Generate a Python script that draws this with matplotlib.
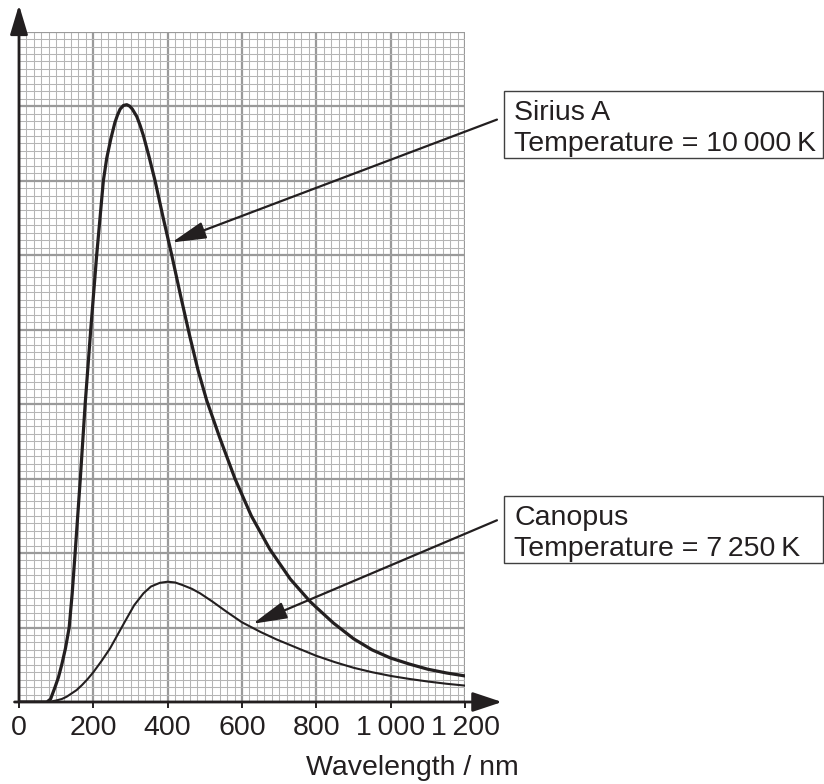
import numpy as np
import matplotlib.pyplot as plt
from matplotlib.patches import Rectangle

plt.rcParams['font.family'] = ['Liberation Sans', 'DejaVu Sans']

# Curva de Sirius A (unidades arbitrarias)
sirius_lambda = [0, 60, 75, 85, 97, 106, 115, 125, 135, 143, 151, 158, 165, 171.5, 178, 185.5,
                 193, 201, 209, 218, 227, 236, 247, 258, 265, 272, 281, 290, 298, 305, 317,
                 326, 335, 350, 366, 388, 411, 435, 460, 482, 505, 540, 581, 625, 675, 730,
                 783, 800, 846, 900, 950, 1000, 1050, 1100, 1150, 1200]
sirius_valor = [0, 0, 0, 0.04, 0.2, 0.33, 0.5, 0.72, 1.0, 1.45, 2.0, 2.5, 3.0, 3.5, 4.0, 4.5,
                5.0, 5.5, 6.0, 6.5, 7.0, 7.3, 7.56, 7.78, 7.88, 7.96, 8.01, 8.02, 8.0, 7.96,
                7.86, 7.74, 7.6, 7.32, 7.0, 6.5, 6.0, 5.45, 4.9, 4.45, 4.05, 3.55, 3.0, 2.5, 2.05,
                1.65, 1.35, 1.27, 1.06, 0.85, 0.70, 0.59, 0.51, 0.44, 0.39, 0.35]

# Curva de Canopus
canopus_lambda = [0, 60, 75, 90, 100, 115, 128, 140, 155, 170, 185, 200, 222, 245, 265, 285,
                  310, 335, 355, 379, 400, 420, 440, 465, 487, 520, 559, 600, 650, 693, 756,
                  800, 850, 900, 950, 1000, 1050, 1100, 1150, 1200]
canopus_valor = [0, 0, 0, 0.01, 0.02, 0.04, 0.07, 0.11, 0.16, 0.23, 0.31, 0.40, 0.55, 0.72,
                 0.9, 1.08, 1.3, 1.46, 1.55, 1.6, 1.615, 1.605, 1.57, 1.52, 1.46, 1.35, 1.21,
                 1.07, 0.94, 0.84, 0.71, 0.62, 0.535, 0.46, 0.40, 0.35, 0.31, 0.275, 0.245, 0.22]

ticks_x = [0, 200, 400, 600, 800, 1000, 1200]
etiquetas_x = ['0', '200', '400', '600', '800', '1\u2009000', '1\u2009200']

negro = '#231f20'
W, H = 824, 784


def fx(px):
    return px / W


def fy(py):
    return 1 - py / H


fig = plt.figure(figsize=(W / 100, H / 100), dpi=100)
ax = fig.add_axes([fx(19), fy(702), (465 - 19) / W, (702 - 31.7) / H])

ax.set_xlim(0, 1200)
ax.set_ylim(0, 9)

# Papel milimetrado
ax.set_xticks(ticks_x)
ax.set_xticklabels(etiquetas_x)
ax.set_xticks(np.arange(0, 1201, 20), minor=True)
ax.set_yticks(np.arange(0, 10, 1))
ax.set_yticks(np.arange(0, 9.01, 0.1), minor=True)
ax.grid(which='minor', color='#b5b5b5', lw=0.75)
ax.grid(which='major', color='#9a9a9a', lw=1.6)
ax.set_axisbelow(True)
for s in ax.spines.values():
    s.set_visible(False)
ax.tick_params(axis='y', which='both', length=0, labelleft=False)
ax.tick_params(axis='x', which='minor', length=0)
ax.tick_params(axis='x', which='major', length=4.5, width=1.4, color=negro,
               labelsize=20.5, labelcolor=negro, pad=5)

# Curvas
ax.plot(sirius_lambda, sirius_valor, color=negro, lw=2.3, solid_joinstyle='round', zorder=3)
ax.plot(canopus_lambda, canopus_valor, color=negro, lw=1.5, solid_joinstyle='round', zorder=3)

# Ejes con flecha
ax.annotate('', xy=(1.083, 0), xycoords='axes fraction', xytext=(-0.01, 0),
            arrowprops=dict(arrowstyle='-|>,head_length=0.9,head_width=0.3', color=negro,
                            lw=2, mutation_scale=20, shrinkA=0, shrinkB=0), zorder=4)
ax.annotate('', xy=(0, 1.04), xycoords='axes fraction', xytext=(0, 0),
            arrowprops=dict(arrowstyle='-|>,head_length=0.9,head_width=0.27', color=negro,
                            lw=2, mutation_scale=20, shrinkA=0, shrinkB=0), zorder=4)

ax.text(fx(412), fy(775), 'Wavelength / nm', transform=fig.transFigure, ha='center',
        va='baseline', fontsize=20.5, color=negro)

# Recuadros de las estrellas
flecha = dict(arrowstyle='-|>,head_length=1.4,head_width=0.35', color=negro, lw=1.6,
              mutation_scale=15, shrinkA=0, shrinkB=0)
ax.annotate('', xy=(411, 6.17), xytext=(1286, 7.82), arrowprops=flecha,
            annotation_clip=False, zorder=5)
ax.annotate('', xy=(629, 1.05), xytext=(1286, 2.44), arrowprops=flecha,
            annotation_clip=False, zorder=5)

for top, nombre, temp in [(91, 'Sirius A', 'Temperature = 10\u2009000\u2009K'),
                          (496, 'Canopus', 'Temperature = 7\u2009250\u2009K')]:
    fig.add_artist(Rectangle((fx(504), fy(top + 67)), (823 - 504) / W, 67 / H,
                             transform=fig.transFigure, fill=False, ec='#404040', lw=1))
    fig.text(fx(514), fy(top + 29), nombre, fontsize=20.5, color=negro, va='baseline')
    fig.text(fx(514), fy(top + 60), temp, fontsize=20.5, color=negro, va='baseline')

fig.savefig('out.png', dpi=100)
